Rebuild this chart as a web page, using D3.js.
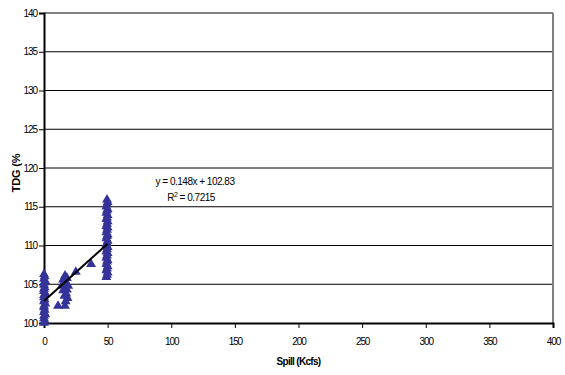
<!DOCTYPE html>
<html>
<head>
<meta charset="utf-8">
<script src="https://cdn.jsdelivr.net/npm/d3@7"></script>
<style>
  html, body { margin: 0; padding: 0; background: #fff; }
  svg { display: block; font-family: "Liberation Sans", Arial, sans-serif; }
</style>
</head>
<body>
<svg id="chart" width="565" height="375"></svg>
<script>
// Spill (Kcfs) vs. total dissolved gas (%)
// no-spill readings
const spillNone = [
  0, 0.5, 0, 0, 1, 0, 0.5, 0, 0, 1, 0, 0.5, 0, 0, 1, 0, 0, 0.5, 0, 0, 1, 0, 0.5, 0
];
const tdgNone = [
  100.0, 100.3, 100.6, 100.9, 101.1, 101.4, 101.7, 102.0, 102.2, 102.5, 102.8, 103.0,
  103.3, 103.6, 103.8, 104.1, 104.4, 104.6, 104.9, 105.2, 105.4, 105.7, 106.0, 106.3
];
// low / intermediate spill readings
const spillLow = [11, 16.5, 17, 16, 17.5, 15, 18, 14, 16, 17, 15, 18, 16.5, 19, 18.5, 25, 37];
const tdgLow = [
  102.2, 102.2, 102.8, 103.5, 103.8, 104.2, 104.3, 104.8, 105.0, 105.3, 105.6, 105.8,
  106.1, 104.8, 103.2, 106.6, 107.6
];
// ~50 Kcfs spill readings
const spillHigh = [
  49, 49.5, 50, 49, 49.5, 50, 49, 49.5, 50, 49, 49.5, 50,
  49, 49.5, 50, 49, 49.5, 50, 49, 49.5, 50, 49, 49.5, 50,
  49, 49.5, 50, 49, 49.5, 50, 49, 49.5, 50, 49, 49.5, 50,
  49.5
];
const tdgHigh = [
  105.9, 106.2, 106.5, 106.8, 107.0, 107.3, 107.6, 107.9, 108.1, 108.4, 108.7, 109.0,
  109.2, 109.5, 109.8, 110.1, 110.3, 110.6, 110.9, 111.2, 111.4, 111.7, 112.0, 112.3,
  112.5, 112.8, 113.1, 113.4, 113.6, 113.9, 114.2, 114.5, 114.7, 115.0, 115.3, 115.6,
  115.9
];

// Linear trendline
const trendSlope = 0.148;
const trendIntercept = 102.83;
const trendR2 = 0.7215;
const trendLabel = "y = 0.148x + 102.83";

const xTicks = [0, 50, 100, 150, 200, 250, 300, 350, 400];
const yTicks = [100, 105, 110, 115, 120, 125, 130, 135, 140];
const xTitle = "Spill (Kcfs)";
const yTitle = "TDG (%";

const spillKcfs = spillNone.concat(spillLow, spillHigh);
const tdgPct = tdgNone.concat(tdgLow, tdgHigh);

const svg = d3.select("#chart");
const plotLeft = 44, plotRight = 553, plotTop = 13, plotBottom = 323;

const x = d3.scaleLinear().domain([0, 400]).range([plotLeft, plotRight]);
const y = d3.scaleLinear().domain([100, 140]).range([plotBottom, plotTop]);

// horizontal gridlines
svg.append("g")
  .selectAll("line")
  .data(yTicks.filter(v => v > 100 && v < 140))
  .join("line")
  .attr("x1", plotLeft).attr("x2", plotRight)
  .attr("y1", d => y(d)).attr("y2", d => y(d))
  .attr("stroke", "#000").attr("stroke-width", 1);

// plot frame, top and right
svg.append("line")
  .attr("x1", plotLeft).attr("x2", plotRight)
  .attr("y1", y(140)).attr("y2", y(140))
  .attr("stroke", "#808080").attr("stroke-width", 2);
svg.append("line")
  .attr("x1", plotRight).attr("x2", plotRight)
  .attr("y1", y(140)).attr("y2", y(100))
  .attr("stroke", "#808080").attr("stroke-width", 2);

// axes
const xAxis = d3.axisBottom(x).tickValues(xTicks).tickSize(5).tickPadding(10).tickFormat(d3.format("d"));
const yAxis = d3.axisLeft(y).tickValues(yTicks).tickSize(5).tickPadding(2).tickFormat(d3.format("d"));

const gx = svg.append("g").attr("transform", `translate(0,${plotBottom})`).call(xAxis);
const gy = svg.append("g").attr("transform", `translate(${plotLeft},0)`).call(yAxis);

[gx, gy].forEach(g => {
  g.select(".domain").attr("stroke", "#000").attr("stroke-width", 2);
  g.selectAll(".tick line").attr("stroke", "#000").attr("stroke-width", 1);
  g.selectAll(".tick text")
    .attr("fill", "#000")
    .style("font-family", '"Liberation Sans", Arial, sans-serif')
    .style("font-size", "10px")
    .style("letter-spacing", "-1.1px");
});

// axis titles
svg.append("text")
  .attr("x", (plotLeft + plotRight) / 2).attr("y", 365)
  .attr("text-anchor", "middle")
  .style("font-size", "10px").style("font-weight", "bold").style("letter-spacing", "-0.7px")
  .text(xTitle);

svg.append("text")
  .attr("transform", "translate(20,173) rotate(-90)")
  .attr("text-anchor", "middle")
  .style("font-size", "11px").style("font-weight", "bold").style("letter-spacing", "-0.2px")
  .text(yTitle);

// scatter points
const points = spillKcfs.map((s, i) => ({ s, t: tdgPct[i] }));
svg.append("g")
  .selectAll("path")
  .data(points)
  .join("path")
  .attr("transform", d => `translate(${x(d.s)},${y(d.t)})`)
  .attr("d", d3.symbol(d3.symbolTriangle, 42))
  .attr("fill", "#333399");

// trendline across the observed spill range
const xMax = d3.max(spillKcfs);
svg.append("line")
  .attr("x1", x(0)).attr("y1", y(trendIntercept))
  .attr("x2", x(xMax)).attr("y2", y(trendIntercept + trendSlope * xMax))
  .attr("stroke", "#000").attr("stroke-width", 2);

// trendline equation
const eq = svg.append("g").style("font-size", "10px").style("letter-spacing", "-0.5px");
eq.append("text")
  .attr("x", 195).attr("y", 185)
  .attr("text-anchor", "middle")
  .text(trendLabel);
const r2 = eq.append("text")
  .attr("x", 191).attr("y", 201)
  .attr("text-anchor", "middle");
r2.append("tspan").text("R");
r2.append("tspan").attr("dy", -4).style("font-size", "7px").text("2");
r2.append("tspan").attr("dy", 4).text(" = " + trendR2.toFixed(4));
</script>
</body>
</html>
